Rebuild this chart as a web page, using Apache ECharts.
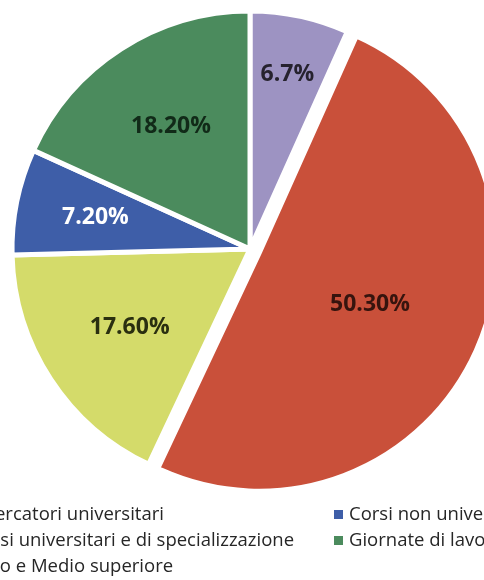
<!DOCTYPE html>
<html>
<head>
<meta charset="utf-8">
<script src="https://cdn.jsdelivr.net/npm/echarts@6/dist/echarts.min.js"></script>
<style>
  html, body { margin: 0; padding: 0; background: #ffffff; }
  #chart { width: 484px; height: 580px; }
</style>
</head>
<body>
<div id="chart"></div>
<script>
// Slice categories, in clockwise order starting at 12 o'clock
const categories = [
  'Ricercatori universitari',
  'Corsi universitari e di specializzazione',
  'Ciclo e Medio superiore',
  'Corsi non universitari',
  'Giornate di lavoro'
];
// Share of each category (%)
const values = [6.7, 50.3, 17.6, 7.2, 18.2];
// Decimals shown in each slice label
const labelDecimals = [1, 2, 2, 2, 2];

// Styling
const colors = ['#9d93c2', '#c9503a', '#d4db6a', '#3e5ea8', '#4b8b5d'];
const labelColors = ['#26222e', '#36140e', '#2a2f10', '#ffffff', '#112a18'];
const labelRadius = [0.76, 0.5, 0.61, 0.67, 0.62];

const CX = 250, CY = 249, R = 238, EXPLODE = 10, GAP = 5;
const explodedIndex = 1;

const total = values.reduce((a, b) => a + b, 0);

function midAngle(i) {
  let before = 0;
  for (let k = 0; k < i; k++) before += values[k];
  return (before + values[i] / 2) / total * 2 * Math.PI; // clockwise from top
}

function labelPosition(i) {
  const a = midAngle(i);
  const visR = R - GAP / 2;
  let x = CX + Math.sin(a) * visR * labelRadius[i];
  let y = CY - Math.cos(a) * visR * labelRadius[i];
  if (i === explodedIndex) {
    x += Math.sin(a) * EXPLODE;
    y -= Math.cos(a) * EXPLODE;
  }
  return { x, y };
}

const chart = echarts.init(document.getElementById('chart'), null, { renderer: 'canvas' });

const legendText = {
  fontFamily: 'Open Sans',
  fontSize: 18.5,
  color: '#262626',
  lineHeight: 19
};

const legendCommon = {
  orient: 'vertical',
  top: 505,
  height: 75,
  padding: 0,
  icon: 'rect',
  itemWidth: 11,
  itemHeight: 11,
  itemGap: 7,
  selectedMode: false,
  textStyle: legendText
};

chart.setOption({
  animation: false,
  color: colors,
  legend: [
    Object.assign({ data: categories.slice(0, 3), left: -47 }, legendCommon),
    Object.assign({ data: categories.slice(3), left: 332 }, legendCommon)
  ],
  series: [{
    type: 'pie',
    center: [CX, CY],
    radius: R,
    startAngle: 90,
    clockwise: true,
    selectedMode: 'single',
    selectedOffset: EXPLODE,
    avoidLabelOverlap: false,
    emphasis: { disabled: true },
    itemStyle: { borderColor: '#ffffff', borderWidth: GAP },
    label: {
      show: true,
      position: 'inside',
      fontFamily: 'Open Sans',
      fontWeight: 'bold',
      fontSize: 23,
      formatter: p => values[p.dataIndex].toFixed(labelDecimals[p.dataIndex]) + '%'
    },
    labelLine: { show: false },
    labelLayout: p => {
      const pos = labelPosition(p.dataIndex);
      return { x: pos.x, y: pos.y, align: 'center', verticalAlign: 'middle' };
    },
    data: categories.map((name, i) => ({
      name,
      value: values[i],
      selected: i === explodedIndex,
      label: { color: labelColors[i] }
    }))
  }]
});
</script>
</body>
</html>
